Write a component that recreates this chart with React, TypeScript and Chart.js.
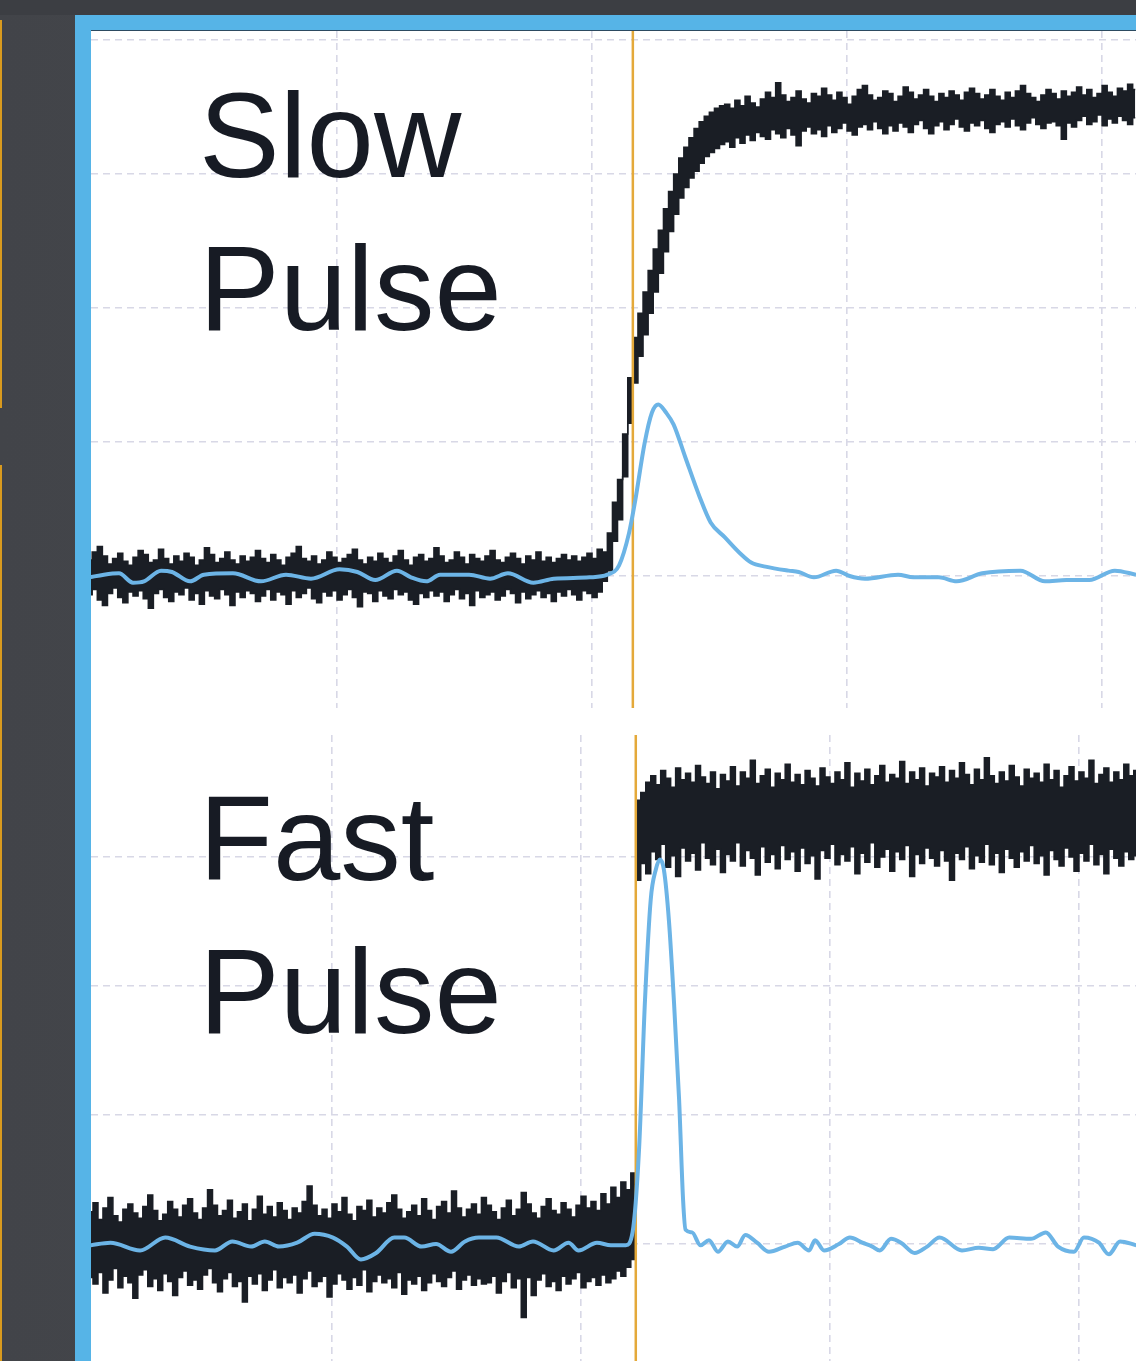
import React, { useEffect, useRef } from "react";
import { Chart, registerables } from "chart.js";

Chart.register(...registerables);

// ---------- data (time in ns, signal in arbitrary units; grid step = 100) ----------
const SAMPLE_STEP = 2; // ns between noisy samples

// Slow pulse – noisy black trace, upper / lower envelope per sample (t = 3, 5, 7 ...)
const SLOW_T0 = 3;
const SLOW_HI = [
  12, 18, 22, 15, 9, 13, 17, 11, 8, 14,
  19, 16, 10, 12, 20, 13, 9, 15, 11, 17,
  14, 8, 12, 21, 16, 10, 13, 18, 12, 9,
  15, 11, 14, 19, 13, 10, 16, 12, 8, 14,
  17, 22, 13, 11, 15, 9, 12, 18, 14, 10,
  13, 16, 20, 12, 9, 14, 11, 17, 13, 10,
  15, 19, 12, 8, 14, 16, 11, 13, 21, 15,
  10, 12, 18, 14, 9, 16, 13, 11, 15, 19,
  12, 10, 14, 17, 13, 9, 15, 12, 18, 11,
  14, 10, 13, 16, 12, 15, 11, 14, 17, 13,
  20,
  18, 32, 55, 72, 106, 148, 178, 196, 212, 228, 244, 258,
  274, 287, 300, 312, 320, 327, 334, 339, 343, 346, 349, 351,
  352, 349, 355, 351, 358, 353, 350, 356, 361, 357,
  368, 359, 354, 357, 362, 356, 353, 360, 358, 364,
  359, 355, 361, 357, 352, 358, 363, 366, 359, 355,
  357, 362, 360, 354, 358, 365, 361, 356, 359, 363,
  358, 354, 360, 357, 362, 359, 355, 361, 364, 360,
  356, 359, 363, 358, 355, 361, 357, 362, 366, 360,
  357, 354, 359, 363, 360, 356, 362, 358, 361, 365,
  359, 363, 357, 360, 366, 361, 358, 364, 362, 367,
  363,
];
const SLOW_LO = [
  -14, -10, -18, -22, -13, -9, -16, -20, -12, -15,
  -11, -17, -24, -13, -10, -16, -19, -12, -14, -9,
  -18, -13, -21, -11, -15, -17, -10, -14, -22, -12,
  -16, -11, -13, -19, -15, -10, -18, -12, -14, -21,
  -11, -16, -13, -9, -17, -20, -12, -15, -11, -18,
  -14, -10, -16, -23, -12, -13, -19, -11, -15, -17,
  -10, -14, -12, -18, -21, -13, -16, -11, -15, -12,
  -19, -14, -10, -17, -13, -22, -11, -16, -14, -12,
  -18, -15, -10, -13, -20, -12, -17, -14, -11, -16,
  -13, -19, -12, -15, -10, -14, -18, -11, -13, -16,
  -12,
  -4, 4, 26, 42, 74, 114, 144, 164, 180, 196, 212, 226,
  242, 257, 270, 282, 290, 297, 302, 308, 313, 316, 319, 322,
  324, 320, 327, 323, 329, 325, 331, 328, 326, 333,
  330, 327, 334, 329, 321, 332, 335, 330, 333, 328,
  336, 331, 334, 338, 332, 329, 335, 337, 333, 339,
  334, 330, 336, 332, 338, 335, 331, 337, 340, 334,
  330, 336, 339, 333, 337, 341, 335, 332, 338, 336,
  340, 334, 331, 337, 339, 335, 341, 336, 333, 338,
  342, 337, 334, 338, 339, 336, 326, 338, 335, 340,
  343, 337, 339, 344, 336, 341, 338, 343, 340, 337,
  342,
];
// Slow pulse – blue trace
const SLOW_BLUE_T = [
  3, 8.6, 14.5, 20, 24.3, 31, 35.3, 42.4, 47.8, 59.2, 70.2, 80, 89.8, 101, 108,
  115, 123.5, 129, 135, 140.4, 151.8, 160, 167, 177, 185, 199, 206, 210.6, 214.5,
  217, 220.6, 223.5, 226, 229, 232, 236.5, 242.2, 246.5, 252, 258, 262.4, 268,
  277, 281, 287, 295.7, 301, 307, 320, 326, 336, 343, 353, 368, 377.6, 386, 395,
  405, 413.3,
];
const SLOW_BLUE_V = [
  -1, 1, 2, -5, -4, 4, 3, -4, 1, 2, -4, 1, -2, 5, 3, -3, 4, -1, -4, 1, 1, -2, 2,
  -5, -2, -1, 1, 8, 32, 57, 99, 122, 128, 122, 113, 89, 59, 40, 29, 17, 10, 7, 4,
  3, -1, 4, 0, -2, 1, -1, -1, -4, 2, 4, -4, -3, -3, 4, 1,
];
const SLOW_MARKER_T = 216;

// Fast pulse – noisy black trace (t = 3, 5, 7 ...)
const FAST_T0 = 3;
const FAST_HI = [
  25, 32, 19, 28, 36, 22, 17, 27, 31, 24,
  20, 29, 38, 26, 18, 23, 33, 27, 21, 30,
  35, 24, 19, 28, 42, 30, 22, 26, 34, 20,
  25, 31, 18, 27, 37, 23, 29, 21, 32, 26,
  19, 28, 24, 33, 45, 30, 22, 27, 20, 31,
  25, 36, 23, 18, 29, 26, 34, 21, 28, 24,
  32, 38, 27, 20, 25, 30, 22, 35, 26, 19,
  29, 33, 24, 41, 28, 21, 27, 31, 23, 36,
  30, 25, 19, 28, 34, 22, 27, 40, 31, 24,
  20, 29, 35, 26, 23, 32, 27, 21, 30, 37,
  28, 33, 26, 39, 31, 44, 36, 48, 42, 55,
  344, 350, 358, 363, 356, 367, 361, 354, 369, 360,
  365, 358, 371, 362, 357, 366, 353, 364, 359, 370,
  355, 366, 361, 375, 357, 363, 368, 354, 365, 360,
  372, 358, 364, 356, 367, 361, 355, 369, 362, 357,
  366, 360, 373, 354, 365, 359, 368, 356, 363, 371,
  358, 364, 361, 374, 357, 366, 360, 369, 355, 365,
  362, 370, 358, 367, 361, 373, 364, 356, 368, 360,
  377, 363, 357, 366, 359, 371, 362, 355, 368, 361,
  365, 358, 372, 360, 367, 354, 363, 370, 359, 366,
  361, 375, 357, 364, 369, 358, 366, 360, 372, 363,
  367,
];
const FAST_LO = [
  -26, -31, -22, -38, -28, -19, -34, -25, -30, -42,
  -24, -20, -33, -27, -36, -23, -29, -40, -26, -21,
  -32, -28, -35, -24, -19, -30, -37, -27, -22, -33,
  -29, -45, -25, -31, -23, -36, -28, -20, -34, -26,
  -30, -24, -38, -27, -21, -33, -29, -25, -41, -31,
  -23, -28, -35, -26, -32, -20, -37, -29, -24, -30,
  -27, -34, -22, -39, -28, -31, -25, -36, -30, -23,
  -29, -33, -26, -21, -35, -28, -24, -32, -27, -31,
  -30, -25, -38, -29, -22, -34, -27, -57, -26, -40,
  -28, -23, -33, -29, -36, -25, -31, -27, -22, -34,
  -29, -26, -32, -24, -30, -27, -21, -25, -18, -12,
  282, 295, 287, 304, 298, 310, 292, 301, 285, 307,
  297, 303, 290, 311, 299, 294, 306, 288, 302, 297,
  311, 293, 305, 299, 286, 308, 296, 302, 291, 309,
  298, 304, 289, 307, 295, 301, 283, 305, 299, 310,
  294, 302, 297, 308, 287, 303, 296, 311, 292, 300,
  306, 289, 304, 298, 309, 285, 302, 295, 307, 299,
  293, 305, 297, 282, 303, 298, 308, 291, 301, 296,
  310, 294, 303, 288, 306, 299, 292, 304, 297, 309,
  295, 301, 286, 305, 298, 293, 307, 300, 289, 303,
  297, 310, 294, 302, 287, 306, 299, 293, 304, 298,
  301,
];
// Fast pulse – blue trace
const FAST_BLUE_T = [
  2.8, 11, 22.9, 33, 43, 53, 60, 67.5, 73, 78.7, 86, 93, 100.4, 106, 111.6, 117.7,
  125, 129, 136, 141.8, 147.8, 153.4, 159, 166, 175, 180.7, 189, 195, 199, 206.4,
  212, 218, 220.7, 223.3, 225.7, 228, 230, 231.7, 233.3, 235.3, 237.3, 239.4, 241,
  242, 244.6, 248, 251.4, 255, 259, 262.7, 266, 270.7, 275.5, 282, 287, 291.6, 294,
  297.6, 303.6, 308, 313, 317, 320, 324.5, 328.5, 334, 339, 344, 353, 359.8, 365.5,
  372, 380.7, 386.7, 391.6, 398, 402, 408, 412, 416.5, 423,
];
const FAST_BLUE_V = [
  -1, 1, -5, 5, -2, -5, 2, -2, 2, -2, 1, 8, 5, -2, -12, -7, 5, 5, -2, 0, -6, 2, 5,
  5, -2, 2, -5, 1, -5, 1, -1, -1, 9, 73, 189, 267, 290, 298, 290, 251, 189, 112, 34,
  11, 9, -1, 3, -6, 2, -2, 7, 1, -6, -2, 1, -5, 3, -5, 0, 5, 1, -2, -5, 4, 1, -7,
  -2, 5, -5, -3, -4, 5, 4, 9, -2, -6, 5, 1, -8, 2, -1,
];
const FAST_MARKER_T = 222;

const GRID_T = [100, 200, 300, 400];
const SLOW_GRID_V = [0, 100, 200, 300, 400];
const FAST_GRID_V = [0, 100, 200, 300];

// ---------- helpers ----------
type Pt = { x: number; y: number };
function envelope(t0: number, v: number[]): Pt[] {
  return v.map((y, i) => ({ x: t0 + i * SAMPLE_STEP, y }));
}
function pairs(t: number[], v: number[]): Pt[] {
  return t.map((x, i) => ({ x, y: v[i] }));
}

const GRID_COLOR = "#d8d8e6";
const BLACK = "#1a1e25";

type Props = {
  left: number;
  top: number;
  width: number;
  height: number;
  xMin: number;
  xMax: number;
  yMin: number;
  yMax: number;
  yGrid: number[];
  hi: Pt[];
  lo: Pt[];
  blue: Pt[];
  marker: number;
};

function PulseChart(p: Props) {
  const ref = useRef<HTMLCanvasElement>(null);
  useEffect(() => {
    const chart = new Chart(ref.current as HTMLCanvasElement, {
      type: "line",
      data: {
        datasets: [
          {
            data: p.blue,
            borderColor: "#6cb4e6",
            borderWidth: 4,
            pointRadius: 0,
            cubicInterpolationMode: "monotone",
            order: 0,
          } as any,
          {
            data: [
              { x: p.marker, y: p.yMin - 50 },
              { x: p.marker, y: p.yMax + 50 },
            ],
            borderColor: "#e4a93a",
            borderWidth: 2.5,
            pointRadius: 0,
            order: 1,
          },
          {
            data: p.hi,
            borderColor: BLACK,
            borderWidth: 1.5,
            pointRadius: 0,
            stepped: "middle",
            fill: false,
            order: 2,
          },
          {
            data: p.lo,
            borderColor: BLACK,
            backgroundColor: BLACK,
            borderWidth: 1.5,
            pointRadius: 0,
            stepped: "middle",
            fill: "-1",
            order: 3,
          },
        ],
      },
      options: {
        responsive: false,
        animation: false,
        events: [],
        layout: { padding: 0 },
        plugins: {
          legend: { display: false },
          tooltip: { enabled: false },
          filler: { propagate: false },
        },
        scales: {
          x: {
            type: "linear",
            min: p.xMin,
            max: p.xMax,
            ticks: { display: false },
            grid: { color: GRID_COLOR, lineWidth: 1.6, drawTicks: false },
            border: { display: false, dash: [7, 5] },
            afterBuildTicks: (s: any) => {
              s.ticks = GRID_T.map((value) => ({ value }));
            },
          },
          y: {
            type: "linear",
            min: p.yMin,
            max: p.yMax,
            ticks: { display: false },
            grid: { color: GRID_COLOR, lineWidth: 1.6, drawTicks: false },
            border: { display: false, dash: [7, 5] },
            afterBuildTicks: (s: any) => {
              s.ticks = p.yGrid.map((value) => ({ value }));
            },
          },
        },
      } as any,
    });
    return () => chart.destroy();
  }, []);
  return (
    <canvas
      ref={ref}
      width={p.width}
      height={p.height}
      style={{
        position: "absolute",
        left: p.left,
        top: p.top,
        width: p.width,
        height: p.height,
      }}
    />
  );
}

const labelStyle: React.CSSProperties = {
  position: "absolute",
  left: 199,
  fontFamily: '"Liberation Sans", Arial, sans-serif',
  fontSize: 121,
  lineHeight: "121px",
  color: "#171b24",
  whiteSpace: "nowrap",
};

export default function App() {
  return (
    <div
      style={{
        position: "fixed",
        left: 0,
        top: 0,
        width: 1136,
        height: 1361,
        overflow: "hidden",
        background: "linear-gradient(90deg, #424449 0%, #4a4c50 100%)",
      }}
    >
      <div style={{ position: "absolute", left: 0, top: 0, width: 1136, height: 15, background: "#3c3e43" }} />
      <div style={{ position: "absolute", left: 0, top: 20, width: 2, height: 388, background: "#d99a1e" }} />
      <div style={{ position: "absolute", left: 0, top: 465, width: 2, height: 896, background: "#d99a1e" }} />
      <div style={{ position: "absolute", left: 75, top: 15, width: 1061, height: 1346, background: "#56b4e7" }} />
      <div style={{ position: "absolute", left: 91, top: 30, width: 1045, height: 1, background: "#2c4a60" }} />
      <div style={{ position: "absolute", left: 91, top: 31, width: 1045, height: 1330, background: "#ffffff" }} />

      <PulseChart
        left={91}
        top={31}
        width={1045}
        height={677}
        xMin={3.53}
        xMax={413.3}
        yMin={-98.5}
        yMax={406.7}
        yGrid={SLOW_GRID_V}
        hi={envelope(SLOW_T0, SLOW_HI)}
        lo={envelope(SLOW_T0, SLOW_LO)}
        blue={pairs(SLOW_BLUE_T, SLOW_BLUE_V)}
        marker={SLOW_MARKER_T}
      />
      <PulseChart
        left={91}
        top={735}
        width={1045}
        height={626}
        xMin={3.2}
        xMax={422.9}
        yMin={-90.7}
        yMax={394.6}
        yGrid={FAST_GRID_V}
        hi={envelope(FAST_T0, FAST_HI)}
        lo={envelope(FAST_T0, FAST_LO)}
        blue={pairs(FAST_BLUE_T, FAST_BLUE_V)}
        marker={FAST_MARKER_T}
      />

      <div style={{ ...labelStyle, top: 75 }}>Slow</div>
      <div style={{ ...labelStyle, top: 228 }}>Pulse</div>
      <div style={{ ...labelStyle, top: 778 }}>Fast</div>
      <div style={{ ...labelStyle, top: 931 }}>Pulse</div>
    </div>
  );
}
